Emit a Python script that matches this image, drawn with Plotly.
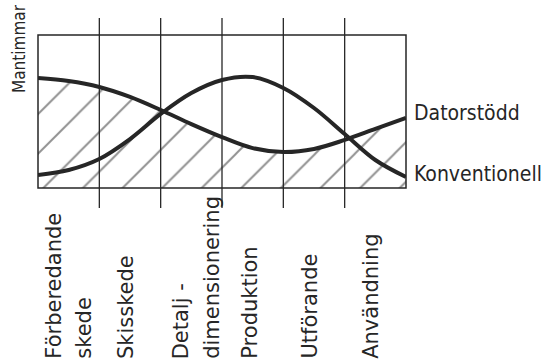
import plotly.graph_objects as go

# ---- data ----
phases = ["Förberedande skede", "Skisskede", "Detalj- dimensionering",
          "Produktion", "Utförande", "Användning"]
phase_label_lines = [["Förberedande", "skede"], ["Skisskede"], ["Detalj -", "dimensionering"],
                     ["Produktion"], ["Utförande"], ["Användning"]]
x_pos = [0, 0.5, 1, 1.5, 2, 2.5, 3, 3.5, 4, 4.5, 5, 5.5, 6]
datorstodd = [7.19, 6.99, 6.60, 5.95, 5.10, 4.18, 3.33, 2.61, 2.35, 2.55, 3.14, 3.86, 4.58]
konventionell = [0.85, 1.18, 1.90, 3.20, 4.84, 6.21, 7.06, 7.25, 6.54, 5.23, 3.53, 1.83, 0.72]
series_names = ["Datorstödd", "Konventionell"]
y_title = "Mantimmar"

INK = "#262626"
W, H = 555, 363
L, T = 38, 35
R = W - 406
B = H - 188
plot_w = W - L - R
plot_h = H - T - B
BOT = 188  # pixel of plot bottom


def py(ypix):
    return (BOT - ypix) / plot_h


def px(xpix):
    return (xpix - L) / plot_w


fig = go.Figure()

# hatched area under Datorstödd
fig.add_trace(go.Scatter(
    x=x_pos, y=datorstodd, mode="lines", line=dict(width=0, shape="spline", smoothing=1),
    fill="tozeroy", fillcolor="rgba(0,0,0,0)",
    fillpattern=dict(shape="/", size=28, solidity=0.07, fgcolor="#222",
                     bgcolor="rgba(0,0,0,0)", fillmode="overlay"),
    hoverinfo="skip", showlegend=False))

for vals in (datorstodd, konventionell):
    fig.add_trace(go.Scatter(
        x=x_pos, y=vals, mode="lines",
        line=dict(color=INK, width=4, shape="spline", smoothing=1),
        showlegend=False))

# frame and phase dividers
shapes = [dict(type="rect", xref="paper", yref="paper", x0=0, x1=1, y0=0, y1=1,
               line=dict(color=INK, width=1.5))]
for i in range(1, len(phases)):
    shapes.append(dict(type="line", xref="x", yref="paper", x0=i, x1=i,
                       y0=py(208), y1=py(18), line=dict(color=INK, width=1.3)))

annotations = []
# phase labels (rotated)
offsets = [[-15, 15], [-4], [-10, 20], [-3], [-5], [-5]]
for i, lines in enumerate(phase_label_lines):
    for j, txt in enumerate(lines):
        annotations.append(dict(
            x=i + 0.5, xref="x", y=py(361), yref="paper",
            text=txt, textangle=-90, showarrow=False,
            xanchor="center", yanchor="bottom", xshift=offsets[i][j],
            font=dict(family="DejaVu Sans", size=21, color=INK)))

# series labels at right
for name, ypix in zip(series_names, [113, 174]):
    annotations.append(dict(x=1, xref="paper", y=py(ypix), yref="paper",
                            text=name, showarrow=False, xanchor="left", yanchor="middle",
                            xshift=6, font=dict(family="DejaVu Sans Condensed", size=21, color=INK)))
# y title
annotations.append(dict(x=px(19), xref="paper", y=py(49), yref="paper",
                        text=y_title, textangle=-90, showarrow=False,
                        xanchor="center", yanchor="middle",
                        font=dict(family="DejaVu Sans Condensed", size=17, color=INK)))

fig.update_layout(
    width=W, height=H, margin=dict(l=L, r=R, t=T, b=B),
    paper_bgcolor="white", plot_bgcolor="white",
    xaxis=dict(range=[0, 6], showgrid=False, zeroline=False, showticklabels=False, ticks=""),
    yaxis=dict(range=[0, 10], showgrid=False, zeroline=False, showticklabels=False, ticks=""),
    shapes=shapes, annotations=annotations,
)

fig.write_html("out.html", config={"displayModeBar": False},
               post_script="document.body.style.margin='0';document.body.style.overflow='hidden';")
